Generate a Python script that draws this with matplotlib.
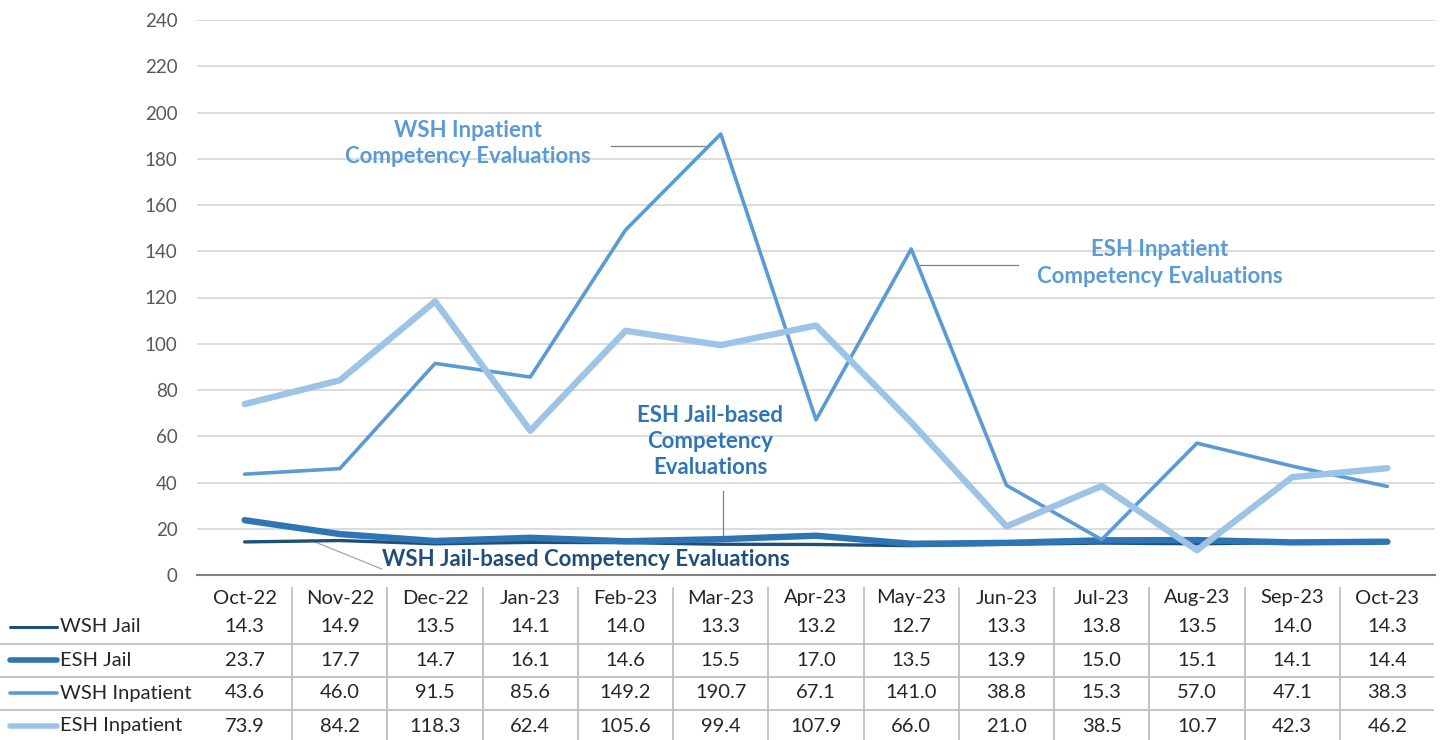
import matplotlib
matplotlib.use("Agg")
import matplotlib.pyplot as plt
import matplotlib.transforms as mtransforms
from matplotlib.lines import Line2D

plt.rcParams['font.family'] = ['Lato', 'DejaVu Sans']

months = ["Oct-22", "Nov-22", "Dec-22", "Jan-23", "Feb-23", "Mar-23", "Apr-23",
          "May-23", "Jun-23", "Jul-23", "Aug-23", "Sep-23", "Oct-23"]
wsh_jail = [14.3, 14.9, 13.5, 14.1, 14.0, 13.3, 13.2, 12.7, 13.3, 13.8, 13.5, 14.0, 14.3]
esh_jail = [23.7, 17.7, 14.7, 16.1, 14.6, 15.5, 17.0, 13.5, 13.9, 15.0, 15.1, 14.1, 14.4]
wsh_inpatient = [43.6, 46.0, 91.5, 85.6, 149.2, 190.7, 67.1, 141.0, 38.8, 15.3, 57.0, 47.1, 38.3]
esh_inpatient = [73.9, 84.2, 118.3, 62.4, 105.6, 99.4, 107.9, 66.0, 21.0, 38.5, 10.7, 42.3, 46.2]

series_names = ["WSH Jail", "ESH Jail", "WSH Inpatient", "ESH Inpatient"]
series_values = [wsh_jail, esh_jail, wsh_inpatient, esh_inpatient]
series_colors = ["#1F4E79", "#2E75B6", "#5B9BD5", "#9DC3E6"]
series_widths = [2.4, 4.6, 2.6, 4.6]

W, H = 1440, 740
fig = plt.figure(figsize=(W / 100, H / 100), dpi=100)
ax = fig.add_axes([197 / W, 1 - 575 / H, (1435 - 197) / W, (575 - 20) / H])

x = list(range(len(months)))
for name, vals, col, lw in zip(series_names, series_values, series_colors, series_widths):
    ax.plot(x, vals, color=col, lw=lw, solid_capstyle='round', solid_joinstyle='round', zorder=3)

ax.set_xlim(-0.5, len(months) - 0.5)
ax.set_ylim(0, 240)
ax.set_yticks(range(0, 241, 20))
ax.grid(axis='y', color='#D9D9D9', lw=1.3)
ax.set_axisbelow(True)
for s in ['top', 'right', 'left']:
    ax.spines[s].set_visible(False)
ax.spines['bottom'].set_color('#808080')
ax.spines['bottom'].set_linewidth(1.5)
ax.set_xticks([])
ax.tick_params(axis='y', length=0, pad=14, labelsize=13.5, labelcolor='#595959')

# annotations
lab_fs = 16
ax.text(2.34, 186.4, "WSH Inpatient\nCompetency Evaluations", color="#5B9BD5",
        fontsize=lab_fs, fontweight='bold', ha='center', va='center', linespacing=1.3)
ax.plot([3.85, 4.84], [185.5, 185.5], color='#808080', lw=0.9, zorder=2)

ax.text(9.61, 134.9, "ESH Inpatient\nCompetency Evaluations", color="#5B9BD5",
        fontsize=lab_fs, fontweight='bold', ha='center', va='center', linespacing=1.3)
ax.plot([7.09, 8.12], [134, 134], color='#808080', lw=0.9, zorder=2)

ax.text(4.89, 57.9, "ESH Jail-based\nCompetency\nEvaluations", color="#2E75B6",
        fontsize=lab_fs, fontweight='bold', ha='center', va='center', linespacing=1.3)
ax.plot([5.02, 5.02], [36.3, 15.1], color='#808080', lw=0.9, zorder=2)

ax.text(1.44, 6.5, "WSH Jail-based Competency Evaluations", color="#1F4E79",
        fontsize=lab_fs, fontweight='bold', ha='left', va='center')
ax.plot([0.69, 1.44], [15.1, 2.6], color='#A6A6A6', lw=0.9, zorder=2)

# data table below the chart
trans = mtransforms.blended_transform_factory(ax.transData, fig.transFigure)
header_y = 598
row_ys = [627, 660, 693, 726]
sep_ys = [644, 677, 710]
tab_fs = 14.5

for i, m in enumerate(months):
    fig.text(i, 1 - header_y / H, m, transform=trans, ha='center', va='center',
             fontsize=tab_fs, color='#262626')
    for vals, ry in zip(series_values, row_ys):
        fig.text(i, 1 - ry / H, f"{vals[i]:.1f}", transform=trans, ha='center',
                 va='center', fontsize=tab_fs, color='#262626')

for i in range(1, len(months)):
    fig.add_artist(Line2D([i - 0.5, i - 0.5], [1 - 588 / H, 0], transform=trans,
                          color='#BFBFBF', lw=1.3))

for sy in sep_ys:
    fig.add_artist(Line2D([0, 1433 / W], [1 - sy / H, 1 - sy / H], color='#BFBFBF', lw=1.3))

legend_widths = [2.2, 4.0, 2.6, 4.0]
for name, col, lw, ry in zip(series_names, series_colors, legend_widths, row_ys):
    fig.add_artist(Line2D([10 / W, 57 / W], [1 - ry / H, 1 - ry / H], color=col,
                          lw=lw, solid_capstyle='round'))
    fig.text(60 / W, 1 - ry / H, name, ha='left', va='center', fontsize=tab_fs, color='#262626')

fig.savefig("out.png", dpi=100)
